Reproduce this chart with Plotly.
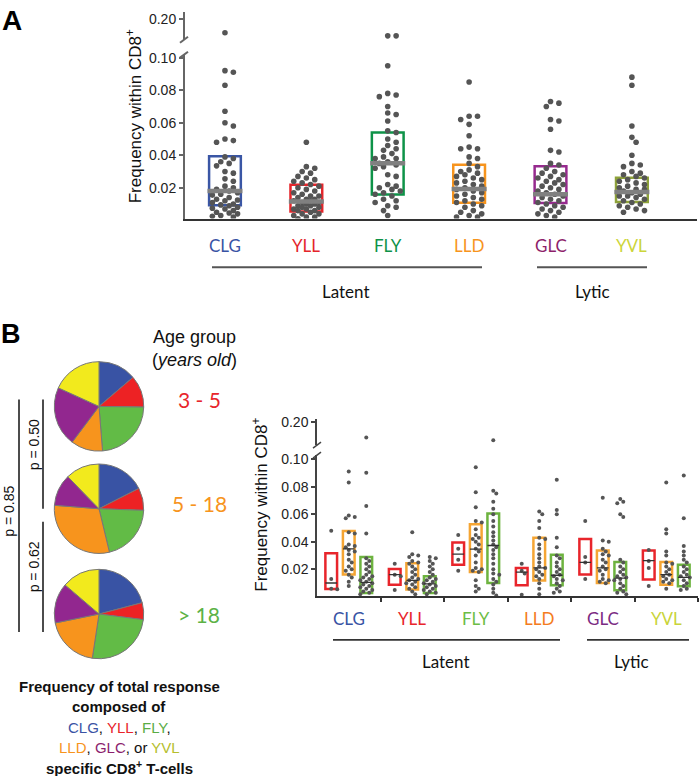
import plotly.graph_objects as go

W, H = 700, 776

# ---------------- data ----------------
cats = ["CLG", "YLL", "FLY", "LLD", "GLC", "YVL"]
groups = ["Latent", "Lytic"]
age_labels = ["3 - 5", "5 - 18", "> 18"]

# Panel A: box (q1, median, q3) per epitope
a_q1 = [0.0092, 0.0055, 0.0159, 0.0108, 0.0107, 0.0113]
a_med = [0.0180, 0.0116, 0.0351, 0.0192, 0.0161, 0.0174]
a_q3 = [0.0394, 0.0218, 0.0540, 0.0342, 0.0333, 0.0261]

a_clg = [0.147, 0.092, 0.091, 0.083, 0.067, 0.060, 0.058, 0.050, 0.049, 0.048, 0.039, 0.038, 0.036,
         0.035, 0.0335, 0.030, 0.029, 0.0255, 0.024, 0.021, 0.020, 0.019, 0.018, 0.017, 0.016, 0.0155,
         0.014, 0.013, 0.0125, 0.012, 0.011, 0.010, 0.0095, 0.009, 0.008, 0.0075, 0.007, 0.006, 0.005,
         0.0045, 0.004, 0.003, 0.0025, 0.002]
a_yll = [0.048, 0.033, 0.032, 0.030, 0.029, 0.027, 0.026, 0.025, 0.024, 0.023, 0.022, 0.021, 0.020,
         0.019, 0.018, 0.017, 0.016, 0.015, 0.015, 0.014, 0.013, 0.013, 0.012, 0.012, 0.011, 0.011,
         0.010, 0.010, 0.009, 0.009, 0.008, 0.008, 0.007, 0.007, 0.006, 0.006, 0.005, 0.004, 0.004,
         0.003, 0.002, 0.002, 0.001]
a_fly = [0.135, 0.135, 0.095, 0.078, 0.077, 0.076, 0.070, 0.066, 0.065, 0.061, 0.055, 0.054, 0.050,
         0.048, 0.046, 0.044, 0.043, 0.041, 0.039, 0.038, 0.038, 0.036, 0.035, 0.034, 0.033, 0.032,
         0.028, 0.027, 0.022, 0.021, 0.020, 0.019, 0.018, 0.017, 0.016, 0.015, 0.013, 0.012, 0.011,
         0.009, 0.008, 0.006, 0.003]
a_lld = [0.085, 0.064, 0.064, 0.062, 0.059, 0.052, 0.045, 0.044, 0.044, 0.039, 0.038, 0.035, 0.033,
         0.031, 0.030, 0.029, 0.028, 0.027, 0.026, 0.025, 0.024, 0.023, 0.022, 0.021, 0.020, 0.019,
         0.018, 0.017, 0.016, 0.015, 0.014, 0.013, 0.012, 0.011, 0.010, 0.009, 0.008, 0.006, 0.005,
         0.004, 0.003, 0.002, 0.002]
a_glc = [0.073, 0.072, 0.070, 0.062, 0.061, 0.056, 0.043, 0.042, 0.035, 0.034, 0.032, 0.030, 0.029,
         0.028, 0.027, 0.026, 0.025, 0.024, 0.023, 0.022, 0.021, 0.020, 0.019, 0.018, 0.017, 0.016,
         0.015, 0.014, 0.013, 0.012, 0.011, 0.010, 0.009, 0.008, 0.007, 0.006, 0.005, 0.004, 0.003,
         0.002]
a_yvl = [0.088, 0.083, 0.058, 0.051, 0.048, 0.040, 0.035, 0.034, 0.033, 0.030, 0.029, 0.028, 0.027,
         0.026, 0.025, 0.024, 0.023, 0.022, 0.021, 0.020, 0.019, 0.019, 0.018, 0.017, 0.016, 0.015,
         0.015, 0.014, 0.013, 0.012, 0.011, 0.010, 0.009, 0.008, 0.007, 0.006, 0.005]

# Panel B: per age group box stats (per epitope)
b_q1_young = [0.0058, 0.0089, 0.0234, 0.0085, 0.0162, 0.0126]
b_med_young = [0.0101, 0.0162, 0.0310, 0.0180, 0.0250, 0.0263]
b_q3_young = [0.0317, 0.0202, 0.0395, 0.0210, 0.0421, 0.0337]
b_q1_mid = [0.0162, 0.0053, 0.0181, 0.0119, 0.0101, 0.0089]
b_med_mid = [0.0349, 0.0120, 0.0346, 0.0210, 0.0210, 0.0162]
b_q3_mid = [0.0479, 0.0245, 0.0527, 0.0430, 0.0337, 0.0253]
b_q1_old = [0.0029, 0.0029, 0.0101, 0.0085, 0.0049, 0.0077]
b_med_old = [0.0106, 0.0094, 0.0373, 0.0157, 0.0137, 0.0142]
b_q3_old = [0.0289, 0.0150, 0.0606, 0.0306, 0.0253, 0.0234]

# Panel B: points per (epitope, age group)
b_pts_young = [
    [0.048, 0.013, 0.006, 0.0055],
    [0.024, 0.016, 0.015, 0.005],
    [0.045, 0.035, 0.027, 0.019],
    [0.024, 0.019, 0.017, 0.0015],
    [0.055, 0.029, 0.025, 0.013],
    [0.034, 0.026, 0.021, 0.008],
]
b_pts_mid = [
    [0.091, 0.083, 0.059, 0.058, 0.057, 0.047, 0.046, 0.038, 0.037, 0.036, 0.034, 0.033, 0.031,
     0.027, 0.025, 0.022, 0.020, 0.019, 0.016, 0.014, 0.011, 0.008],
    [0.047, 0.031, 0.030, 0.029, 0.026, 0.025, 0.024, 0.022, 0.020, 0.018, 0.016, 0.014, 0.013,
     0.012, 0.011, 0.010, 0.009, 0.007, 0.006, 0.004, 0.002],
    [0.094, 0.076, 0.065, 0.055, 0.054, 0.049, 0.045, 0.043, 0.042, 0.040, 0.038, 0.035, 0.033,
     0.030, 0.025, 0.021, 0.020, 0.019, 0.018, 0.012, 0.008, 0.006, 0.004],
    [0.062, 0.060, 0.055, 0.050, 0.043, 0.042, 0.038, 0.035, 0.031, 0.028, 0.025, 0.022, 0.021,
     0.020, 0.018, 0.016, 0.015, 0.013, 0.010, 0.006, 0.002],
    [0.072, 0.041, 0.040, 0.035, 0.033, 0.031, 0.030, 0.027, 0.025, 0.022, 0.020, 0.019, 0.016,
     0.013, 0.012, 0.011, 0.010],
    [0.083, 0.049, 0.046, 0.033, 0.030, 0.025, 0.024, 0.022, 0.020, 0.018, 0.016, 0.015, 0.013,
     0.012, 0.011, 0.010, 0.006],
]
b_pts_old = [
    [0.147, 0.090, 0.066, 0.046, 0.028, 0.026, 0.024, 0.022, 0.020, 0.018, 0.016, 0.015, 0.014,
     0.013, 0.012, 0.011, 0.010, 0.009, 0.008, 0.007, 0.006, 0.005, 0.004, 0.003, 0.002],
    [0.029, 0.028, 0.026, 0.024, 0.022, 0.020, 0.018, 0.016, 0.014, 0.013, 0.012, 0.011, 0.010,
     0.009, 0.008, 0.007, 0.006, 0.005, 0.004, 0.003, 0.002],
    [0.137, 0.077, 0.075, 0.069, 0.064, 0.060, 0.055, 0.051, 0.047, 0.044, 0.041, 0.038, 0.036,
     0.034, 0.031, 0.028, 0.024, 0.020, 0.017, 0.016, 0.013, 0.011, 0.009, 0.006, 0.003, 0.001],
    [0.085, 0.063, 0.060, 0.043, 0.036, 0.030, 0.028, 0.025, 0.022, 0.020, 0.018, 0.016, 0.015,
     0.013, 0.012, 0.010, 0.008, 0.006, 0.004, 0.003],
    [0.071, 0.069, 0.068, 0.060, 0.058, 0.027, 0.025, 0.022, 0.020, 0.018, 0.016, 0.015, 0.014,
     0.013, 0.012, 0.010, 0.008, 0.006, 0.004, 0.003, 0.002],
    [0.088, 0.057, 0.037, 0.033, 0.030, 0.027, 0.025, 0.022, 0.020, 0.018, 0.016, 0.015, 0.014,
     0.012, 0.010, 0.008, 0.006, 0.005],
]

# Pie fractions (CLG, YLL, FLY, LLD, GLC, YVL)
pie_young = [0.1375, 0.115, 0.235, 0.115, 0.2155, 0.182]
pie_mid = [0.175, 0.081, 0.207, 0.300, 0.115, 0.123]
pie_old = [0.209, 0.061, 0.254, 0.194, 0.145, 0.137]
p_values = ["p = 0.50", "p = 0.62", "p = 0.85"]

# ---------------- styles ----------------
a_box_colors = ["#3A56A5", "#E5262B", "#0E9348", "#F7941D", "#962A8E", "#8EA23A"]
a_lab_colors = ["#3953A4", "#E4252B", "#0D9248", "#F7941D", "#8E1F6A", "#CCD53A"]
b_lab_colors = ["#3853A4", "#E8252B", "#6CBD45", "#F47B20", "#7B2B83", "#C9D43A"]
age_colors = ["#E8252B", "#F5A533", "#6DB33F"]
age_text_colors = ["#E8252B", "#F7941D", "#5CB246"]
pie_colors = ["#3953A4", "#ED2224", "#62BB46", "#F7941D", "#92278F", "#F2EA1D"]
DOT = "#555555"
SANS = "Liberation Sans, Arial, sans-serif"
HUM = "Lato, Open Sans, sans-serif"


def px(x):
    return x / W


def py(y):
    return 1 - y / H


def swarm(vals, ypu, xpu, d, maxw, stepf=0.75):
    """deterministic beeswarm offsets (data-x units) from values"""
    placed = []
    res = [0.0] * len(vals)
    order = sorted(range(len(vals)), key=lambda i: -vals[i])
    step = d * stepf
    cands = [0.0]
    k = 1
    while k * step <= maxw:
        cands += [k * step, -k * step]
        k += 1
    for i in order:
        yp = vals[i] * ypu
        best, bestd = 0.0, -1
        for c in cands:
            md = min([((c - a) ** 2 + (yp - b) ** 2) ** 0.5 for a, b in placed] + [1e9])
            if md >= d:
                best = c
                bestd = md
                break
            if md > bestd:
                best, bestd = c, md
        placed.append((best, yp))
        res[i] = best / xpu
    return res


def note(x, y, text, font, **kw):
    d = dict(x=px(x), y=py(y), xref="paper", yref="paper", text=text, showarrow=False,
             xanchor="center", yanchor="middle", font=font)
    d.update(kw)
    return d


fig = go.Figure()
shapes = []
ann = []

# ---------------- Panel A ----------------
A_LOW = [0.00106, 0.1018]
A_UP = [0.12, 0.2267]
A_BREAK = 0.11
a_xpu = 81.4
a_ypu = 1 / 0.000611
a_points = [a_clg, a_yll, a_fly, a_lld, a_glc, a_yvl]

for i, vals in enumerate(a_points):
    low = [v for v in vals if v < A_BREAK]
    up = [v for v in vals if v >= A_BREAK]
    offs = swarm(low, a_ypu, a_xpu, 5.6, 14)
    fig.add_trace(go.Scatter(x=[i + o for o in offs], y=low, mode="markers", xaxis="x", yaxis="y",
                             marker=dict(size=5.6, color=DOT), showlegend=False, hoverinfo="skip"))
    if up:
        offs_u = swarm(up, 1 / 0.00381, a_xpu, 5.6, 14)
        fig.add_trace(go.Scatter(x=[i + o for o in offs_u], y=up, mode="markers", xaxis="x", yaxis="y2",
                                 marker=dict(size=5.6, color=DOT), showlegend=False, hoverinfo="skip"))
    hw = 0.195
    shapes.append(dict(type="rect", xref="x", yref="y", x0=i - hw, x1=i + hw, y0=a_q1[i], y1=a_q3[i],
                       line=dict(color=a_box_colors[i], width=2.5), layer="below"))
    shapes.append(dict(type="line", xref="x", yref="y", x0=i - 0.215, x1=i + 0.215, y0=a_med[i], y1=a_med[i],
                       line=dict(color="#808080", width=4.5), layer="above"))
    ann.append(dict(x=i, xref="x", y=py(242), yref="paper", text=cats[i], showarrow=False,
                    font=dict(family=HUM, size=17, color=a_lab_colors[i]), xanchor="center", yanchor="middle"))

# brackets A
shapes.append(dict(type="line", xref="paper", yref="paper", x0=px(212), x1=px(482), y0=py(264), y1=py(264),
                   line=dict(color="#555", width=2)))
shapes.append(dict(type="line", xref="paper", yref="paper", x0=px(537), x1=px(647), y0=py(264), y1=py(264),
                   line=dict(color="#555", width=2)))
ann.append(note(346, 288, groups[0], dict(family=HUM, size=17, color="#111")))
ann.append(note(592, 288, groups[1], dict(family=HUM, size=17, color="#111")))
# break marks A
for yb in (35, 50):
    shapes.append(dict(type="line", xref="paper", yref="paper", x0=px(180), x1=px(188), y0=py(yb + 3),
                       y1=py(yb - 3), line=dict(color="#666", width=2)))
ann.append(note(12, 16, "<b>A</b>", dict(family=SANS, size=28, color="#000")))
ann.append(note(134, 112, "Frequency within CD8<sup>+</sup>", dict(family=SANS, size=17, color="#111"),
                textangle=-90))

# ---------------- Panel B ----------------
B_LOW = [0.00054, 0.1029]
B_UP = [0.12, 0.2104]
b_xpu = 63.5
b_ypu = 1 / 0.0007207
b_off = [-0.276, 0.0, 0.276]
b_q1 = [b_q1_young, b_q1_mid, b_q1_old]
b_med = [b_med_young, b_med_mid, b_med_old]
b_q3 = [b_q3_young, b_q3_mid, b_q3_old]
b_pts = [b_pts_young, b_pts_mid, b_pts_old]

for g in range(3):
    for i in range(6):
        vals = b_pts[g][i]
        cx = i + b_off[g]
        low = [v for v in vals if v < A_BREAK]
        up = [v for v in vals if v >= A_BREAK]
        offs = swarm(low, b_ypu, b_xpu, 4.0, 8)
        fig.add_trace(go.Scatter(x=[cx + o for o in offs], y=low, mode="markers", xaxis="x2", yaxis="y3",
                                 marker=dict(size=4, color=DOT), showlegend=False, hoverinfo="skip"))
        if up:
            fig.add_trace(go.Scatter(x=[cx] * len(up), y=up, mode="markers", xaxis="x2", yaxis="y4",
                                     marker=dict(size=4, color=DOT), showlegend=False, hoverinfo="skip"))
        hw = 0.092
        shapes.append(dict(type="rect", xref="x2", yref="y3", x0=cx - hw, x1=cx + hw, y0=b_q1[g][i],
                           y1=b_q3[g][i], line=dict(color=age_colors[g], width=2.5), layer="below"))
        shapes.append(dict(type="line", xref="x2", yref="y3", x0=cx - hw, x1=cx + hw, y0=b_med[g][i],
                           y1=b_med[g][i], line=dict(color="#333", width=1.3), layer="above"))

for i in range(6):
    ann.append(dict(x=i, xref="x2", y=py(617), yref="paper", text=cats[i], showarrow=False,
                    xanchor="center", yanchor="middle",
                    font=dict(family=HUM, size=17, color=b_lab_colors[i])))
shapes.append(dict(type="line", xref="paper", yref="paper", x0=px(333), x1=px(560), y0=py(639), y1=py(639),
                   line=dict(color="#333", width=1.8)))
shapes.append(dict(type="line", xref="paper", yref="paper", x0=px(587), x1=px(689), y0=py(639), y1=py(639),
                   line=dict(color="#333", width=1.8)))
ann.append(note(446, 661, groups[0], dict(family=HUM, size=17, color="#111")))
ann.append(note(631, 661, groups[1], dict(family=HUM, size=17, color="#111")))
for yb in (443, 453):
    shapes.append(dict(type="line", xref="paper", yref="paper", x0=px(313), x1=px(321), y0=py(yb + 3),
                       y1=py(yb - 3), line=dict(color="#444", width=1.5)))
ann.append(note(260, 503, "Frequency within CD8<sup>+</sup>", dict(family=SANS, size=17, color="#111"),
                textangle=-90))
ann.append(note(11, 331, "<b>B</b>", dict(family=SANS, size=27, color="#000")))

# pies
pie_vals = [pie_young, pie_mid, pie_old]
pie_cy = [404, 507, 613]
R = 45
for k in range(3):
    cy = pie_cy[k]
    fig.add_trace(go.Pie(values=pie_vals[k], labels=cats, sort=False, direction="clockwise", rotation=0,
                         marker=dict(colors=pie_colors, line=dict(color="#777", width=1)),
                         textinfo="none", hoverinfo="skip", showlegend=False,
                         domain=dict(x=[px(99 - R), px(99 + R)], y=[py(cy + R), py(cy - R)])))
    ann.append(note(199, [397, 502, 613][k], age_labels[k], dict(family=HUM, size=21, color=age_text_colors[k])))

ann.append(note(194, 334, "Age group", dict(family=SANS, size=18, color="#111")))
ann.append(note(194, 357, "(<i>years old</i>)", dict(family=SANS, size=18, color="#111")))

# p-value brackets
for (x0, y0, y1) in [(19, 397, 631), (43, 397, 507), (43, 520, 631)]:
    shapes.append(dict(type="line", xref="paper", yref="paper", x0=px(x0), x1=px(x0), y0=py(y0), y1=py(y1),
                       line=dict(color="#111", width=1.5)))
for (txt, x, y) in [(p_values[0], 34, 443), (p_values[1], 34, 566), (p_values[2], 9, 510)]:
    ann.append(note(x, y, txt, dict(family=SANS, size=14, color="#111"), textangle=-90))

# caption
cap = [
    ("<b>Frequency of total response</b>", 686),
    ("<b>composed of</b>", 706),
    ("<span style='color:#3A53A4'>CLG</span>, <span style='color:#E8232B'>YLL</span>, "
     "<span style='color:#5AAC45'>FLY</span>,", 727),
    ("<span style='color:#F7941D'>LLD</span>, <span style='color:#8C1F6E'>GLC</span>, or "
     "<span style='color:#B5BE2D'>YVL</span>", 747),
    ("<b>specific CD8<sup>+</sup> T-cells</b>", 767),
]
for txt, y in cap:
    ann.append(note(119, y, txt, dict(family=SANS, size=15, color="#111")))

tickfont = dict(family=SANS, size=14, color="#222")
fig.update_layout(
    width=W, height=H, margin=dict(l=0, r=0, t=0, b=0),
    paper_bgcolor="white", plot_bgcolor="white",
    xaxis=dict(domain=[px(185), px(697)], range=[-0.491, 5.80], showline=True, linecolor="#333",
               linewidth=1.8, showgrid=False, zeroline=False, showticklabels=False, ticks="",
               anchor="y", fixedrange=True),
    yaxis=dict(domain=[py(215), py(50)], range=A_LOW, anchor="x", showline=True, linecolor="#666",
               linewidth=2, showgrid=False, zeroline=False, tickvals=[0.02, 0.04, 0.06, 0.08, 0.10],
               ticktext=["0.02", "0.04", "0.06", "0.08", "0.10"], ticks="outside", ticklen=4,
               tickwidth=2, tickcolor="#666", tickfont=tickfont),
    yaxis2=dict(domain=[py(35), py(7)], range=A_UP, anchor="x", showline=True, linecolor="#666",
                linewidth=2, showgrid=False, zeroline=False, tickvals=[0.20], ticktext=["0.20"],
                ticks="outside", ticklen=4, tickwidth=2, tickcolor="#666", tickfont=tickfont),
    xaxis2=dict(domain=[px(317), px(698)], range=[-0.5, 5.5], showline=True, linecolor="#333",
                linewidth=1.5, showgrid=False, zeroline=False, showticklabels=False,
                tickvals=[0.5, 1.5, 2.5, 3.5, 4.5, 5.5], ticks="outside", ticklen=4, tickwidth=1.5,
                tickcolor="#333", anchor="y3"),
    yaxis3=dict(domain=[py(595), py(453)], range=B_LOW, anchor="x2", showline=True, linecolor="#444",
                linewidth=1.5, showgrid=False, zeroline=False, tickvals=[0.02, 0.04, 0.06, 0.08, 0.10],
                ticktext=["0.02", "0.04", "0.06", "0.08", "0.10"], ticks="outside", ticklen=4,
                tickwidth=1.5, tickcolor="#444", tickfont=tickfont),
    yaxis4=dict(domain=[py(443), py(417)], range=B_UP, anchor="x2", showline=True, linecolor="#444",
                linewidth=1.5, showgrid=False, zeroline=False, tickvals=[0.20], ticktext=["0.20"],
                ticks="outside", ticklen=4, tickwidth=1.5, tickcolor="#444", tickfont=tickfont),
    shapes=shapes, annotations=ann,
)

fig.write_html("out.html", config={"displayModeBar": False},
               post_script="document.body.style.margin='0px';")
